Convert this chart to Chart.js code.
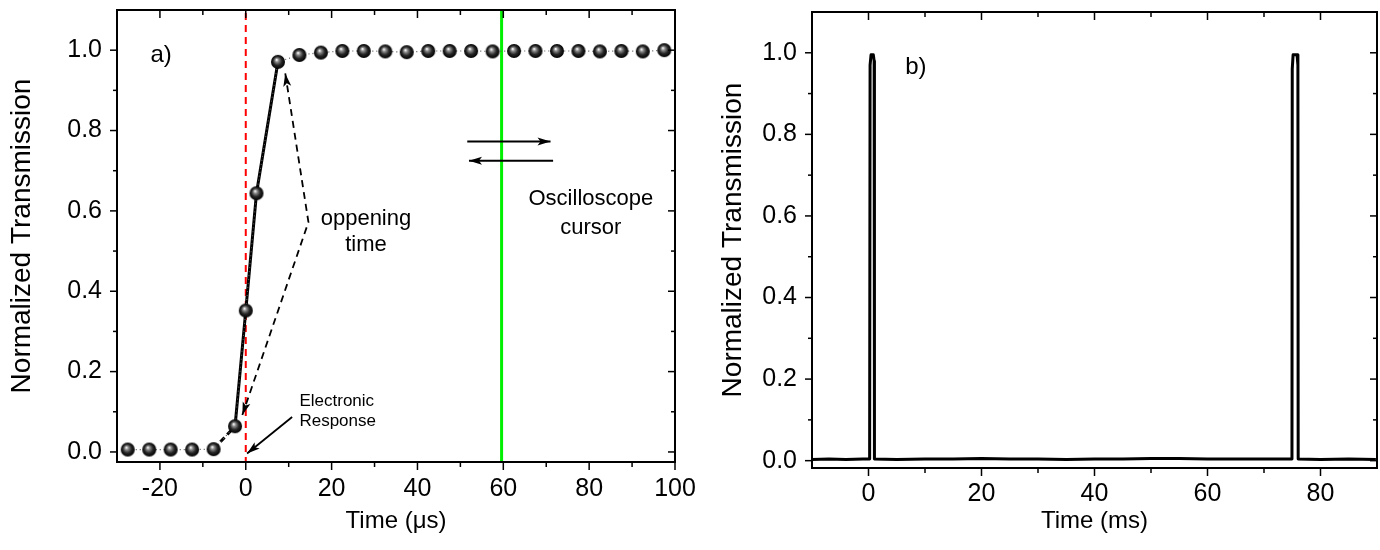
<!DOCTYPE html>
<html>
<head>
<meta charset="utf-8">
<script src="https://cdn.jsdelivr.net/npm/chart.js@4.4.1/dist/chart.umd.min.js"></script>
<style>
  body { margin: 0; background: #fff; }
  #wrap { position: relative; width: 1380px; height: 550px; background: #fff; }
  canvas { position: absolute; top: 0; }
  #chartA { left: 0; }
  #chartB { left: 700px; }
</style>
</head>
<body>
<div id="wrap">
  <canvas id="chartA" width="700" height="550"></canvas>
  <canvas id="chartB" width="680" height="550"></canvas>
</div>
<script>
// panel a) : opening of the shutter, time in microseconds
const timeUs = [-27.5, -22.5, -17.5, -12.5, -7.5, -2.5, 0, 2.5, 7.5,
  12.5, 17.5, 22.5, 27.5, 32.5, 37.5, 42.5, 47.5, 52.5, 57.5, 62.5, 67.5, 72.5, 77.5, 82.5, 87.5, 92.5, 97.5];
const transA = [0.006, 0.006, 0.006, 0.006, 0.007, 0.064, 0.352, 0.644, 0.971,
  0.988, 0.994, 0.998, 0.998, 0.997, 0.995, 0.998, 0.998, 0.998, 0.997, 0.998, 0.998, 0.998, 0.998, 0.997, 0.998, 0.997, 1.0];

// panel b) : pulse train, time in ms
const timeMs = [-10, -7, -4, -1, 0.2, 0.28, 0.45, 0.85, 1.0, 1.05,
  5, 10, 15, 20, 25, 30, 35, 40, 45, 50, 55, 60, 65, 70,
  74.95, 75.0, 75.15, 75.85, 76.0, 76.05, 80, 85, 89.8];
const transB = [0.003, 0.004, 0.003, 0.004, 0.004, 0.97, 0.995, 0.995, 0.98, 0.004,
  0.003, 0.004, 0.004, 0.005, 0.004, 0.004, 0.003, 0.004, 0.004, 0.005, 0.005, 0.004, 0.004, 0.004,
  0.004, 0.96, 0.995, 0.995, 0.97, 0.004, 0.003, 0.004, 0.003];

// tick labels
const xTicksA = [-20, 0, 20, 40, 60, 80, 100];
const xMinorA = [-10, 10, 30, 50, 70, 90];
const xTicksB = [0, 20, 40, 60, 80];
const xMinorB = [10, 30, 50, 70];
const yTicks = [0, 0.2, 0.4, 0.6, 0.8, 1.0];
const yMinor = [0.1, 0.3, 0.5, 0.7, 0.9];

// annotations of panel a), in data units
const zeroLineX = 0;
const cursorX = 59.6;
const openJoin = [14.6, 0.572];
const openTop = [9.2, 0.942];
const openBottom = [-0.8, 0.092];
const elecFrom = [10.8, 0.087];
const elecTo = [0.3, -0.004];
const arrowRight = [[51.6, 0.773], [71.0, 0.773]];
const arrowLeft = [[71.6, 0.725], [52.0, 0.725]];

const FONT = "'Liberation Sans', Arial, sans-serif";
Chart.defaults.font.family = FONT;
Chart.defaults.color = '#000';

// black glossy sphere used as marker
function sphere(r) {
  const c = document.createElement('canvas');
  c.width = c.height = 2 * r + 2;
  const g = c.getContext('2d');
  const m = r + 1;
  const grd = g.createRadialGradient(m - r * 0.2, m - r * 0.3, 0.4, m, m, r);
  grd.addColorStop(0, '#f4f4f4');
  grd.addColorStop(0.22, '#8c8c8c');
  grd.addColorStop(0.6, '#262626');
  grd.addColorStop(1, '#000');
  g.fillStyle = grd;
  g.beginPath();
  g.arc(m, m, r, 0, Math.PI * 2);
  g.fill();
  return c;
}

const pts = (xs, ys) => xs.map((v, i) => ({ x: v, y: ys[i] }));
const seg = (p, q) => [{ x: p[0], y: p[1] }, { x: q[0], y: q[1] }];

// keep the plot box where it is: no extra room for edge labels
const fixX = h => s => { s.height = h; s.paddingLeft = 0; s.paddingRight = 0; };
const fixY = w => s => { s.width = w; s.paddingTop = 0; s.paddingBottom = 0; };

const framePlugin = {
  id: 'frame',
  afterDraw(chart, args, o) {
    const { ctx, chartArea: a, scales: { x, y } } = chart;
    ctx.save();
    ctx.fillStyle = '#000';
    ctx.strokeStyle = '#000';

    // arrow heads
    (o.arrows || []).forEach(([from, to]) => {
      const x1 = x.getPixelForValue(from[0]), y1 = y.getPixelForValue(from[1]);
      const x2 = x.getPixelForValue(to[0]), y2 = y.getPixelForValue(to[1]);
      ctx.save();
      ctx.translate(x2, y2);
      ctx.rotate(Math.atan2(y2 - y1, x2 - x1));
      ctx.beginPath();
      ctx.moveTo(0, 0);
      ctx.lineTo(-13, -4);
      ctx.lineTo(-10, 0);
      ctx.lineTo(-13, 4);
      ctx.closePath();
      ctx.fill();
      ctx.restore();
    });

    // text notes
    (o.labels || []).forEach(l => {
      ctx.font = l.size + 'px ' + FONT;
      ctx.textAlign = l.align || 'center';
      ctx.textBaseline = 'middle';
      ctx.fillText(l.text, x.getPixelForValue(l.x), y.getPixelForValue(l.y));
    });

    // box + ticks (bottom/left outward, top/right inward)
    ctx.lineWidth = 2;
    ctx.strokeRect(a.left, a.top, a.right - a.left, a.bottom - a.top);
    ctx.lineWidth = 1.5;
    const line = (x1, y1, x2, y2) => { ctx.beginPath(); ctx.moveTo(x1, y1); ctx.lineTo(x2, y2); ctx.stroke(); };
    const xt = (vals, len) => vals.forEach(v => {
      const p = x.getPixelForValue(v);
      line(p, a.bottom, p, a.bottom + len);
      line(p, a.top, p, a.top + len);
    });
    const yt = (vals, len) => vals.forEach(v => {
      const p = y.getPixelForValue(v);
      line(a.left - len, p, a.left, p);
      line(a.right - len, p, a.right, p);
    });
    xt(o.xMajor, 8); xt(o.xMinor, 5);
    yt(yTicks, 7); yt(yMinor, 4);
    ctx.restore();
  }
};

const sphereImg = sphere(7);

new Chart(document.getElementById('chartA'), {
  type: 'scatter',
  data: {
    datasets: [
      { data: pts(timeUs, transA), showLine: true, borderColor: '#555', borderWidth: 1.2,
        borderDash: [1, 3], pointStyle: sphereImg, pointRadius: 7, order: 0 },
      { data: pts(timeUs.slice(5, 9), transA.slice(5, 9)), showLine: true, borderColor: '#000',
        borderWidth: 3, pointRadius: 0, order: 1 },
      { data: pts(timeUs.slice(4, 6), transA.slice(4, 6)), showLine: true, borderColor: '#000',
        borderWidth: 3, borderDash: [6, 4], pointRadius: 0, order: 1 },
      { data: [{ x: zeroLineX, y: -0.03 }, { x: zeroLineX, y: 1.1 }], showLine: true, borderColor: '#ff0000',
        borderWidth: 2, borderDash: [7, 5], pointRadius: 0, order: 3 },
      { data: [{ x: cursorX, y: -0.03 }, { x: cursorX, y: 1.1 }], showLine: true, borderColor: '#00f000',
        borderWidth: 3, pointRadius: 0, order: 3 },
      { data: [...seg(openTop, openJoin), { x: openBottom[0], y: openBottom[1] }], showLine: true,
        borderColor: '#000', borderWidth: 1.8, borderDash: [7, 5], pointRadius: 0, order: 2 },
      { data: seg(elecFrom, elecTo), showLine: true, borderColor: '#000', borderWidth: 1.8, pointRadius: 0, order: 2 },
      { data: seg(arrowRight[0], arrowRight[1]), showLine: true, borderColor: '#000', borderWidth: 2, pointRadius: 0, order: 2 },
      { data: seg(arrowLeft[0], arrowLeft[1]), showLine: true, borderColor: '#000', borderWidth: 2, pointRadius: 0, order: 2 }
    ]
  },
  options: {
    responsive: false, animation: false, devicePixelRatio: 1,
    layout: { padding: { left: 0, top: 10, right: 25, bottom: 0 } },
    plugins: {
      legend: { display: false }, tooltip: { enabled: false },
      frame: {
        xMajor: xTicksA, xMinor: xMinorA,
        arrows: [[openJoin, openTop], [openJoin, openBottom], [elecFrom, elecTo], arrowRight, arrowLeft],
        labels: [
          { text: 'a)', x: -22.2, y: 0.987, size: 24, align: 'left' },
          { text: 'oppening', x: 28.0, y: 0.58, size: 22 },
          { text: 'time', x: 28.0, y: 0.515, size: 22 },
          { text: 'Oscilloscope', x: 80.4, y: 0.63, size: 22 },
          { text: 'cursor', x: 80.4, y: 0.558, size: 22 },
          { text: 'Electronic', x: 12.5, y: 0.126, size: 17, align: 'left' },
          { text: 'Response', x: 12.5, y: 0.076, size: 17, align: 'left' }
        ]
      }
    },
    scales: {
      x: {
        type: 'linear', min: -30, max: 100,
        afterBuildTicks: s => { s.ticks = xTicksA.map(v => ({ value: v })); },
        afterFit: fixX(88),
        grid: { display: false, drawTicks: false }, border: { display: false },
        ticks: { padding: 12, font: { size: 25 }, maxRotation: 0, autoSkip: false },
        title: { display: true, text: 'Time (μs)', font: { size: 24 }, padding: { top: 0, bottom: 14 } }
      },
      y: {
        min: -0.025, max: 1.1,
        afterBuildTicks: s => { s.ticks = yTicks.map(v => ({ value: v })); },
        afterFit: fixY(117),
        grid: { display: false, drawTicks: false }, border: { display: false },
        ticks: { padding: 15, font: { size: 25 }, autoSkip: false, callback: v => v.toFixed(1) },
        title: { display: true, text: 'Normalized Transmission', font: { size: 28 }, padding: { top: 5, bottom: 0 } }
      }
    }
  },
  plugins: [framePlugin]
});

new Chart(document.getElementById('chartB'), {
  type: 'scatter',
  data: {
    datasets: [
      { data: pts(timeMs, transB), showLine: true, borderColor: '#000', borderWidth: 3,
        pointRadius: 0, borderJoinStyle: 'round' }
    ]
  },
  options: {
    responsive: false, animation: false, devicePixelRatio: 1,
    layout: { padding: { left: 0, top: 12, right: 3, bottom: 0 } },
    plugins: {
      legend: { display: false }, tooltip: { enabled: false },
      frame: {
        xMajor: xTicksB, xMinor: xMinorB,
        labels: [{ text: 'b)', x: 6.5, y: 0.965, size: 24, align: 'left' }]
      }
    },
    scales: {
      x: {
        type: 'linear', min: -10, max: 90,
        afterBuildTicks: s => { s.ticks = xTicksB.map(v => ({ value: v })); },
        afterFit: fixX(82),
        grid: { display: false, drawTicks: false }, border: { display: false },
        ticks: { padding: 11, font: { size: 25 }, maxRotation: 0, autoSkip: false },
        title: { display: true, text: 'Time (ms)', font: { size: 24 }, padding: { top: 0, bottom: 14 } }
      },
      y: {
        min: -0.018, max: 1.1,
        afterBuildTicks: s => { s.ticks = yTicks.map(v => ({ value: v })); },
        afterFit: fixY(112),
        grid: { display: false, drawTicks: false }, border: { display: false },
        ticks: { padding: 15, font: { size: 25 }, autoSkip: false, callback: v => v.toFixed(1) },
        title: { display: true, text: 'Normalized Transmission', font: { size: 28 }, padding: { top: 16, bottom: 0 } }
      }
    }
  },
  plugins: [framePlugin]
});
</script>
</body>
</html>
